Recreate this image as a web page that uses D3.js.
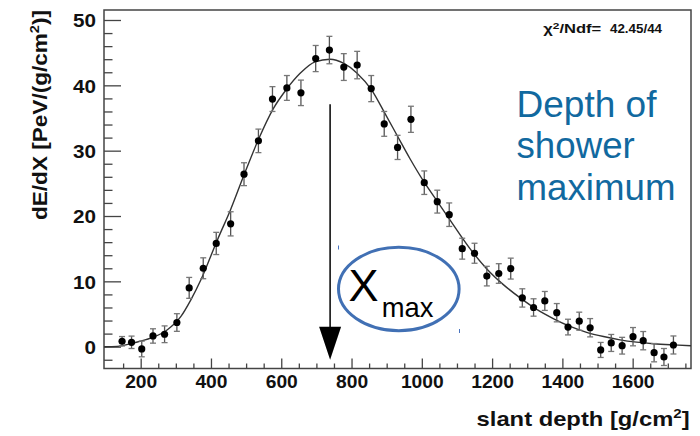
<!DOCTYPE html>
<html>
<head>
<meta charset="utf-8">
<script src="https://cdn.jsdelivr.net/npm/d3@7"></script>
<style>
  html, body { margin: 0; padding: 0; background: #fff; }
  svg { display: block; }
  text { font-family: "Liberation Sans", Arial, Helvetica, sans-serif; }
</style>
</head>
<body>
<div id="chart"></div>
<script>
// ---- Data ----
const depth = [147, 174, 203, 235, 268, 303, 338, 378, 415, 456, 494, 535, 575, 616, 656, 698, 737, 778, 816, 856, 893, 931, 969, 1007, 1044, 1078, 1115, 1150, 1185, 1219, 1253, 1286, 1318, 1350, 1384, 1416, 1448, 1479, 1509, 1539, 1570, 1601, 1630, 1661, 1689, 1716];
const dEdX = [0.83, 0.67, -0.35, 1.64, 1.9, 3.7, 9.0, 12.0, 15.8, 18.8, 26.4, 31.5, 37.9, 39.6, 38.85, 44.1, 45.4, 42.8, 43.1, 39.5, 34.1, 30.5, 34.8, 25.1, 22.2, 20.2, 15.0, 14.3, 10.8, 11.2, 11.95, 7.46, 6.0, 7.0, 5.2, 3.0, 3.9, 2.9, -0.5, 0.57, 0.15, 1.53, 0.92, -0.92, -1.58, 0.26];
const dEdXErr = [0.72, 0.95, 1.2, 1.1, 1.28, 1.35, 1.6, 1.6, 1.7, 1.85, 1.75, 1.8, 1.9, 1.9, 1.95, 2.0, 2.1, 2.05, 2.1, 2.0, 1.9, 1.85, 2.0, 1.8, 1.75, 1.8, 1.6, 1.53, 1.5, 1.5, 1.6, 1.4, 1.33, 1.45, 1.4, 1.2, 1.38, 1.4, 1.15, 1.3, 1.28, 1.4, 1.4, 1.4, 1.3, 1.38];

// fitted profile (Gaisser-Hillas curve)
const fitDepth = [96, 133, 181, 228, 276, 314, 342, 371, 399, 418, 456, 492, 535, 577, 615, 653, 696, 739, 777, 815, 857, 895, 929, 966, 1004, 1042, 1080, 1137, 1185, 1232, 1279, 1327, 1374, 1422, 1469, 1517, 1564, 1611, 1659, 1716, 1766];
const fitValue = [0.0, 0.05, 0.6, 1.3, 2.6, 4.6, 7.1, 10.2, 13.8, 16.3, 21.0, 26.0, 31.7, 36.4, 39.4, 41.8, 43.6, 44.0, 43.4, 41.9, 39.3, 35.7, 32.4, 28.8, 25.4, 22.4, 19.4, 15.0, 11.9, 9.5, 7.5, 5.7, 4.3, 3.1, 2.2, 1.55, 1.05, 0.7, 0.45, 0.27, 0.15];

const xMajorTicks = [200, 400, 600, 800, 1000, 1200, 1400, 1600];
const xMinorTicks = d3.range(150, 1751, 50).filter(v => v % 200 !== 0);
const yMajorTicks = [0, 10, 20, 30, 40, 50];
const yMinorTicks = d3.range(-2, 51, 2).filter(v => v % 10 !== 0);

const xmaxDepth = 739;          // depth of shower maximum (arrow)
const arrowTop = 37.1, arrowTip = -2.0;
const chiLabel = "42.45/44";
const xTitle = "slant depth [g/cm";
const yTitle = "dE/dX [PeV/(g/cm";
const noteLines = ["Depth of", "shower", "maximum"];

// ---- Layout ----
const W = 700, H = 436;
const padL = 104, padT = 10, padR = 691, padB = 368.5;

const svg = d3.select("#chart").append("svg")
  .attr("width", W).attr("height", H)
  .style("background", "#fff");

const x = d3.scaleLinear().domain([95.6, 1766]).range([padL, padR]);
const y = d3.scaleLinear().domain([-3.34, 51.53]).range([padB, padT]);

const axisColor = "#444";

// Y axis ticks (inside)
const yMinor = svg.append("g").attr("transform", `translate(${padL},0)`)
  .call(d3.axisLeft(y).tickValues(yMinorTicks).tickSize(-8.5).tickFormat(""));
const yMajor = svg.append("g").attr("transform", `translate(${padL},0)`)
  .call(d3.axisLeft(y).tickValues(yMajorTicks).tickSize(-17).tickPadding(8).tickFormat(d3.format("d")));
// X axis ticks (inside)
const xMinor = svg.append("g").attr("transform", `translate(0,${padB})`)
  .call(d3.axisBottom(x).tickValues(xMinorTicks).tickSize(-5).tickFormat(""));
const xMajor = svg.append("g").attr("transform", `translate(0,${padB})`)
  .call(d3.axisBottom(x).tickValues(xMajorTicks).tickSize(-10).tickPadding(0).tickFormat(d3.format("d")));

[yMinor, yMajor, xMinor, xMajor].forEach(g => {
  g.select(".domain").remove();
  g.selectAll(".tick line").attr("stroke", axisColor).attr("stroke-width", 1.3);
});
yMajor.selectAll(".tick text")
  .attr("font-size", 19).attr("font-weight", "bold").attr("fill", "#111")
  .attr("font-family", "'Liberation Sans', Arial, sans-serif")
  .attr("dy", "0.36em")
  .each(function(d) { d3.select(this).attr("textLength", String(d).length * 11.5).attr("lengthAdjust", "spacingAndGlyphs"); });
xMajor.selectAll(".tick text")
  .attr("font-size", 19).attr("font-weight", "bold").attr("fill", "#111")
  .attr("font-family", "'Liberation Sans', Arial, sans-serif")
  .attr("y", 19.5).attr("dy", 0)
  .each(function(d) { d3.select(this).attr("textLength", String(d).length * 10.7).attr("lengthAdjust", "spacingAndGlyphs"); });

// Frame
svg.append("rect")
  .attr("x", padL).attr("y", padT)
  .attr("width", padR - padL).attr("height", padB - padT)
  .attr("fill", "none").attr("stroke", axisColor).attr("stroke-width", 1.5);

// Fit curve
const line = d3.line().x((d, i) => x(fitDepth[i])).y((d, i) => y(fitValue[i])).curve(d3.curveMonotoneX);
svg.append("path")
  .datum(fitDepth)
  .attr("d", line)
  .attr("fill", "none").attr("stroke", "#333").attr("stroke-width", 1.4);

// Error bars
const pts = depth.map((d, i) => ({ x: d, y: dEdX[i], e: dEdXErr[i] }));
const eb = svg.append("g").attr("stroke", "#555").attr("stroke-width", 1.3);
eb.selectAll("line.v").data(pts).join("line").attr("class", "v")
  .attr("x1", d => x(d.x)).attr("x2", d => x(d.x))
  .attr("y1", d => y(d.y - d.e)).attr("y2", d => y(d.y + d.e));
eb.selectAll("line.t").data(pts).join("line").attr("class", "t")
  .attr("x1", d => x(d.x) - 3).attr("x2", d => x(d.x) + 3)
  .attr("y1", d => y(d.y + d.e)).attr("y2", d => y(d.y + d.e)).attr("stroke", "#777");
eb.selectAll("line.b").data(pts).join("line").attr("class", "b")
  .attr("x1", d => x(d.x) - 3).attr("x2", d => x(d.x) + 3)
  .attr("y1", d => y(d.y - d.e)).attr("y2", d => y(d.y - d.e)).attr("stroke", "#777");

// Markers
svg.append("g").selectAll("circle").data(pts).join("circle")
  .attr("cx", d => x(d.x)).attr("cy", d => y(d.y)).attr("r", 3.6)
  .attr("fill", "#000");

// Xmax arrow
const ax = x(xmaxDepth);
const headTop = y(arrowTip) - 33;
svg.append("line")
  .attr("x1", ax).attr("x2", ax)
  .attr("y1", y(arrowTop)).attr("y2", headTop + 2)
  .attr("stroke", "#000").attr("stroke-width", 1.5);
svg.append("path")
  .attr("d", `M${ax - 11},${headTop} L${ax + 11},${headTop} L${ax},${y(arrowTip)} Z`)
  .attr("fill", "#000");

// Ellipse with X_max
svg.append("ellipse")
  .attr("cx", 398.8).attr("cy", 289).attr("rx", 60.3).attr("ry", 41.7)
  .attr("fill", "none").attr("stroke", "#4170b4").attr("stroke-width", 3);
svg.append("text").attr("x", 348.5).attr("y", 301)
  .attr("font-size", 45).attr("fill", "#000").text("X");
svg.append("text").attr("x", 381.7).attr("y", 316.7)
  .attr("font-size", 28.5).attr("fill", "#000")
  .attr("textLength", 51.7).attr("lengthAdjust", "spacingAndGlyphs").text("max");
// tiny selection marks
svg.append("line").attr("x1", 338.5).attr("x2", 338.5).attr("y1", 245.5).attr("y2", 249.5)
  .attr("stroke", "#4a74c0").attr("stroke-width", 1);
svg.append("line").attr("x1", 459.5).attr("x2", 459.5).attr("y1", 329).attr("y2", 333)
  .attr("stroke", "#4a74c0").attr("stroke-width", 1);

// Blue note
const noteY = [116.7, 157.5, 200];
const noteW = [140, 118.3, 159];
noteLines.forEach((t, i) => {
  svg.append("text").attr("x", 516.5).attr("y", noteY[i])
    .attr("font-size", 36.5).attr("fill", "#11699f")
    .attr("textLength", noteW[i]).attr("lengthAdjust", "spacingAndGlyphs")
    .text(t);
});

// chi2 label
const chi = svg.append("text").attr("x", 543.3).attr("y", 33)
  .attr("font-size", 12.5).attr("font-weight", "bold").attr("fill", "#111")
  .attr("textLength", 58).attr("lengthAdjust", "spacingAndGlyphs");
chi.append("tspan").text("χ");
chi.append("tspan").attr("font-size", 9).attr("dy", -4.5).text("2");
chi.append("tspan").attr("dy", 4.5).text("/Ndf=");
svg.append("text").attr("x", 610).attr("y", 33)
  .attr("font-size", 12.5).attr("font-weight", "bold").attr("fill", "#111")
  .attr("textLength", 52).attr("lengthAdjust", "spacingAndGlyphs")
  .text(chiLabel);

// Axis titles
const xt = svg.append("text").attr("x", 689.6).attr("y", 425.5)
  .attr("text-anchor", "end")
  .attr("font-size", 20.5).attr("font-weight", "bold").attr("fill", "#111")
  .attr("textLength", 213).attr("lengthAdjust", "spacingAndGlyphs");
xt.append("tspan").text(xTitle);
xt.append("tspan").attr("font-size", 13).attr("dy", -8).text("2");
xt.append("tspan").attr("dy", 8).text("]");

const yt = svg.append("text")
  .attr("transform", "translate(46.5,220) rotate(-90)")
  .attr("font-size", 21).attr("font-weight", "bold").attr("fill", "#111")
  .attr("textLength", 210).attr("lengthAdjust", "spacingAndGlyphs");
yt.append("tspan").text(yTitle);
yt.append("tspan").attr("font-size", 13.5).attr("dy", -8).text("2");
yt.append("tspan").attr("dy", 8).text(")]");
</script>
</body>
</html>
